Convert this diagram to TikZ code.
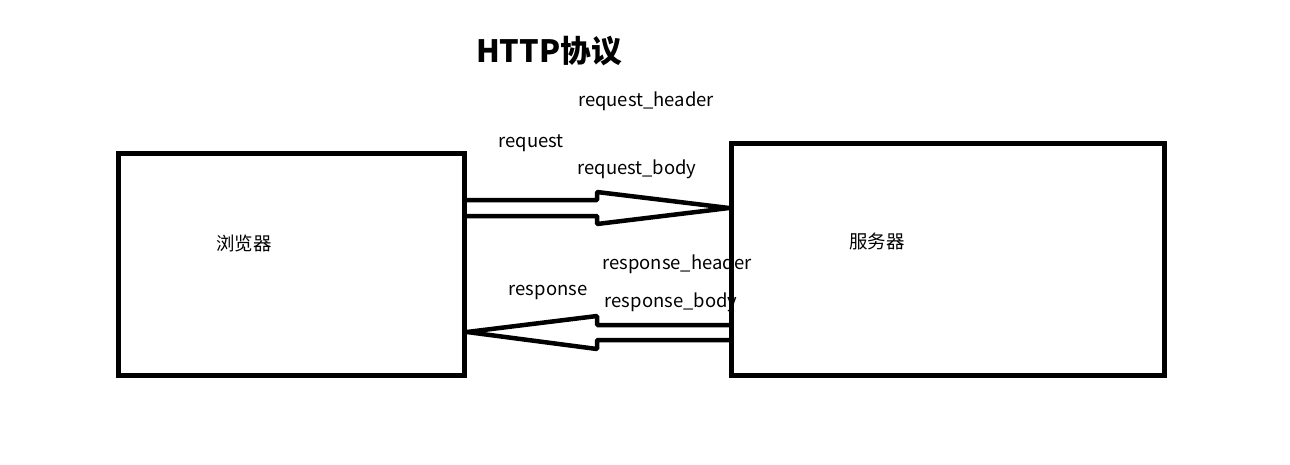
\documentclass[tikz,border=0pt]{standalone}
\usepackage{fontspec}
\setmainfont{Noto Sans CJK SC}
\usepackage{tikz}
\usetikzlibrary{positioning}
\tikzset{
  boxline/.style={line width=0.1cm,black},
  arrowline/.style={line width=0.09cm,black,line join=bevel},
  lbl/.style={font=\fontsize{10.5}{12}\selectfont,inner sep=0pt}
}

\begin{document}
\begin{tikzpicture}[x=0.02cm,y=-0.02cm]
\useasboundingbox (0,0) rectangle (1290,464);
% boxes
\draw[boxline] (118.5,153.5) rectangle (464.5,375.5);
\draw[boxline] (731.5,143.5) rectangle (1164.5,375.5);
\node[lbl] (browser) at (244,243) {浏览器};
\node[lbl] (server) at (877,241) {服务器};
% title
\node[font=\fontsize{17.5}{20}\selectfont\bfseries,inner sep=0pt] (title) at (549,51) {HTTP协议};
% request arrow
\draw[arrowline] (465,200) -- (597,200) -- (597,192) -- (729,208)
  -- (597,224) -- (597,216) -- (465,216);
\node[lbl] (req) at (531,143) {request};
\node[lbl] (reqhead) at (646,101) {request\_header};
\node[lbl] (reqbody) at (637,169) {request\_body};
% response arrow
\draw[arrowline] (731,325) -- (597,325) -- (597,316) -- (467,332)
  -- (597,349) -- (597,340) -- (731,340);
\node[lbl] (resp) at (548,292) {response};
\node[lbl] (resphead) at (677,264) {response\_header};
\node[lbl] (respbody) at (671,302) {response\_body};
\end{tikzpicture}
\end{document}
